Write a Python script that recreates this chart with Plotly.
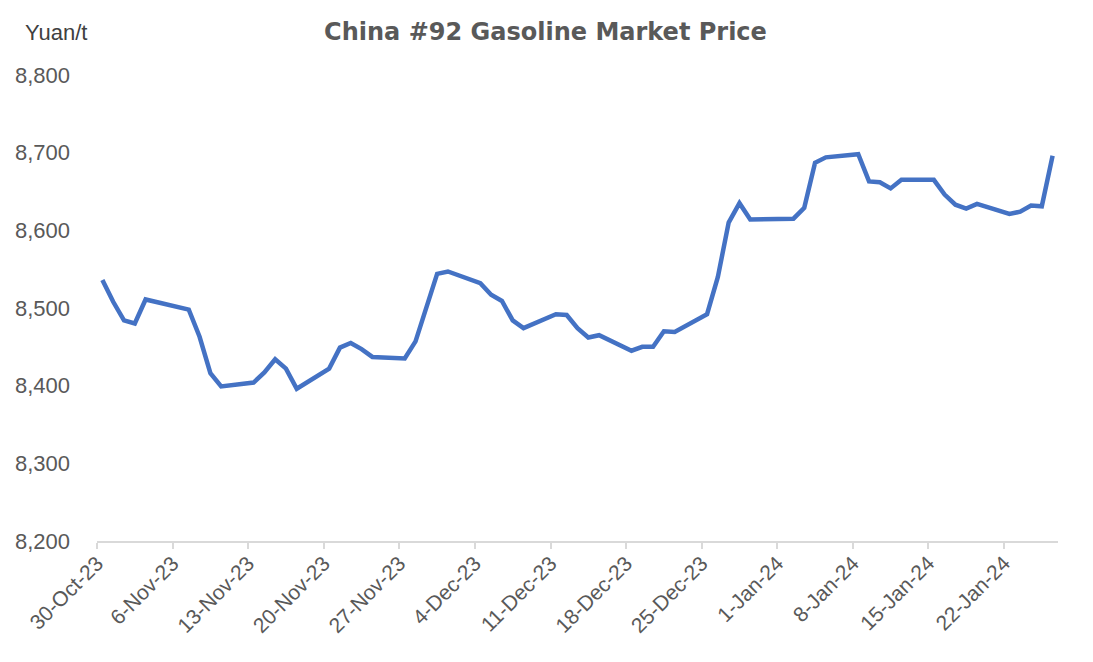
import pandas as pd
import plotly.graph_objects as go

dates = [
    "2023-10-30", "2023-10-31", "2023-11-01", "2023-11-02", "2023-11-03",
    "2023-11-07", "2023-11-08", "2023-11-09", "2023-11-10",
    "2023-11-13", "2023-11-14", "2023-11-15", "2023-11-16", "2023-11-17",
    "2023-11-20", "2023-11-21", "2023-11-22", "2023-11-23", "2023-11-24",
    "2023-11-27", "2023-11-28", "2023-11-30", "2023-12-01",
    "2023-12-04", "2023-12-05", "2023-12-06", "2023-12-07", "2023-12-08",
    "2023-12-11", "2023-12-12", "2023-12-13", "2023-12-14", "2023-12-15",
    "2023-12-18", "2023-12-19", "2023-12-20", "2023-12-21", "2023-12-22",
    "2023-12-25", "2023-12-26", "2023-12-27", "2023-12-28", "2023-12-29",
    "2024-01-02", "2024-01-03", "2024-01-04", "2024-01-05",
    "2024-01-08", "2024-01-09", "2024-01-10", "2024-01-11", "2024-01-12",
    "2024-01-15", "2024-01-16", "2024-01-17", "2024-01-18", "2024-01-19",
    "2024-01-22", "2024-01-23", "2024-01-24", "2024-01-25", "2024-01-26",
]
prices = [
    8536, 8508, 8484, 8480, 8511,
    8498, 8463, 8416, 8399,
    8404, 8417, 8434, 8422, 8396,
    8422, 8449, 8455, 8447, 8437,
    8435, 8457, 8544, 8547,
    8532, 8517, 8509, 8484, 8474,
    8492, 8491, 8474, 8462, 8465,
    8445, 8450, 8450, 8470, 8469,
    8492, 8540, 8610, 8635, 8614,
    8615, 8629, 8687, 8694,
    8698, 8663, 8662, 8654, 8665,
    8665, 8646, 8633, 8628, 8634,
    8621, 8624, 8632, 8631, 8696,
]
tick_dates = pd.date_range("2023-10-30", "2024-01-22", freq="7D")
tick_labels = [f"{d.day}-{d.strftime('%b')}-{d.strftime('%y')}" for d in tick_dates]
y_ticks = [8200, 8300, 8400, 8500, 8600, 8700, 8800]

# Excel date axis draws each day's point in the middle of its day slot
x = pd.to_datetime(dates) + pd.Timedelta(hours=12)

fig = go.Figure()
fig.add_trace(go.Scatter(
    x=x, y=prices, mode="lines",
    line=dict(color="#4472C4", width=4.5),
    hoverinfo="x+y",
))

fig.update_layout(
    width=1093, height=662,
    margin=dict(l=97, r=35, t=75, b=121),
    paper_bgcolor="white", plot_bgcolor="white",
    showlegend=False,
    font=dict(family="Liberation Sans, Arial, sans-serif", color="#595959"),
    title=dict(
        text="<b>China #92 Gasoline Market Price</b>",
        x=545.5 / 1093, xref="container", xanchor="center",
        y=1 - 32 / 662, yref="container", yanchor="middle",
        font=dict(size=24, color="#595959", family="DejaVu Sans, sans-serif"),
    ),
    xaxis=dict(
        type="date",
        range=["2023-10-30", "2024-01-27"],
        tickvals=tick_dates, ticktext=tick_labels,
        tickangle=-45,
        tickfont=dict(size=21, color="#595959"),
        showgrid=False, zeroline=False,
        showline=True, linecolor="#D9D9D9", linewidth=1.5,
        ticks="outside", ticklen=6, tickcolor="#D9D9D9", tickwidth=1.5,
        ticklabelstandoff=-6,
    ),
    yaxis=dict(
        range=[8200, 8800],
        tickvals=y_ticks,
        ticktext=[f"{v:,}" for v in y_ticks],
        tickfont=dict(size=22, color="#595959"),
        showgrid=False, zeroline=False, showline=False,
        ticks="", ticklabelstandoff=26,
    ),
    annotations=[dict(
        text="Yuan/t", xref="paper", yref="paper",
        x=(56 - 97) / 961, y=(541 - 33) / 466,
        xanchor="center", yanchor="middle", showarrow=False,
        font=dict(size=22, color="#404040"),
    )],
)

fig.write_html("out.html")
